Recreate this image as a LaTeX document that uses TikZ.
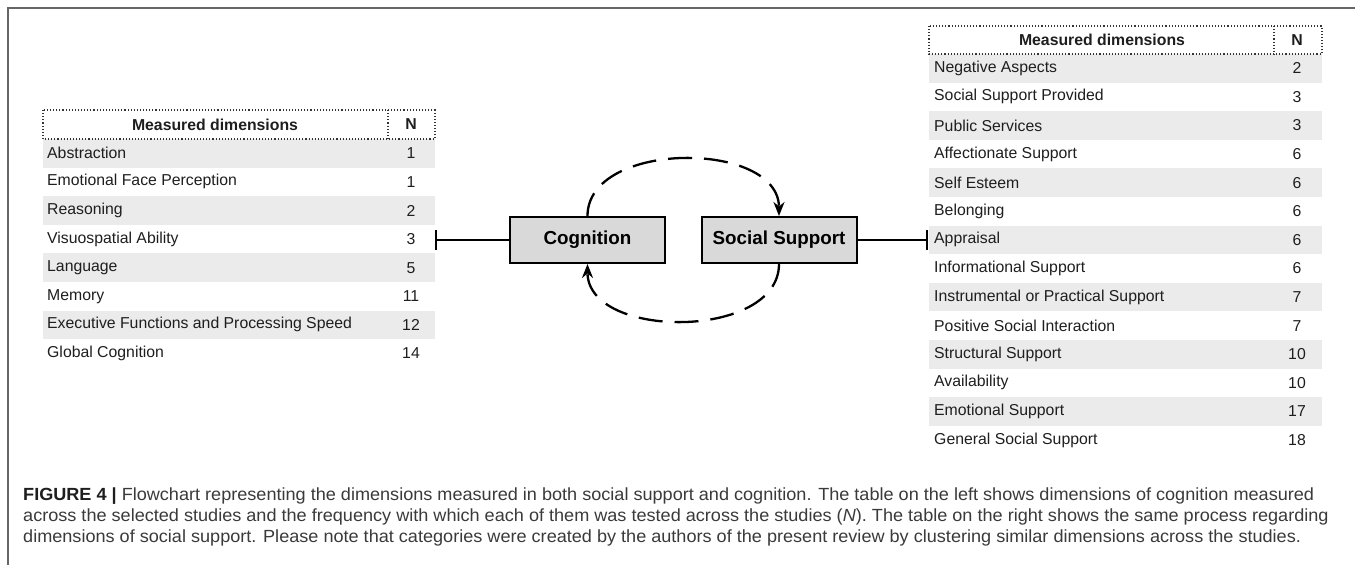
\documentclass[tikz,border=0pt]{standalone}
\usepackage{fontspec}
\setmainfont{Liberation Sans}
\newfontfamily\capfont[FakeStretch=1.028]{Liberation Sans}
\usetikzlibrary{arrows.meta}
\definecolor{rowgray}{HTML}{EBEBEB}
\definecolor{boxgray}{HTML}{D9D9D9}
\definecolor{framegray}{HTML}{666666}
\definecolor{txt}{HTML}{1E1E1E}
\definecolor{captxt}{HTML}{3A3A3A}
\tikzset{
  cell/.style={anchor=west, inner sep=0pt, font=\fontsize{15.8}{18}\selectfont, text=txt},
  numcell/.style={anchor=center, inner sep=0pt, font=\fontsize{15.8}{18}\selectfont, text=txt},
  hdr/.style={anchor=center, inner sep=0pt, font=\fontsize{15.8}{18}\selectfont\bfseries, text=txt},
  hdrline/.style={line width=1.1pt, dash pattern=on 1.1pt off 2pt, black!80},
  concept/.style={draw=black, line width=2pt, fill=boxgray, minimum width=155pt, minimum height=46pt, inner sep=0pt, font=\fontsize{18.8}{22}\selectfont\bfseries},
  barline/.style={line width=2pt},
  loopline/.style={line width=2.3pt, dash pattern=on 24pt off 12pt, -{Stealth[length=14pt,width=11pt]}},
  capline/.style={anchor=base west, inner sep=0pt, text=captxt, font=\capfont\fontsize{17.6}{21}\selectfont}
}
\begin{document}
\begin{tikzpicture}[x=1pt,y=-1pt]
\useasboundingbox (0,0) rectangle (1355,565);
% frame
\draw[framegray, line width=1.5pt] (8,565) -- (8,8) -- (1355,8);

% ---------- left table ----------
\def\rh{28.6}
\foreach \i in {1,3,5,7} {
  \fill[rowgray] (43,{139+(\i-1)*\rh}) rectangle (435,{139+\i*\rh});
}
\foreach \t/\n [count=\i] in {Abstraction/1, Emotional Face Perception/1, Reasoning/2, Visuospatial Ability/3, Language/5, Memory/11, Executive Functions and Processing Speed/12, Global Cognition/14} {
  \node[cell] (L\i) at (47,{139+(\i-0.5)*\rh}) {\t};
  \node[numcell] (LN\i) at (411,{139+(\i-0.5)*\rh}) {\n};
}
\draw[hdrline] (43,110) rectangle (435,139);
\draw[hdrline] (388,110) -- (388,139);
\node[hdr] (LH) at (215,124.5) {Measured dimensions};
\node[hdr] (LHN) at (411,124.5) {N};

% ---------- right table ----------
\foreach \i in {1,3,5,7,9,11,13} {
  \fill[rowgray] (929,{54+(\i-1)*\rh}) rectangle (1322,{54+\i*\rh});
}
\foreach \t/\n [count=\i] in {Negative Aspects/2, Social Support Provided/3, Public Services/3, Affectionate Support/6, Self Esteem/6, Belonging/6, Appraisal/6, Informational Support/6, Instrumental or Practical Support/7, Positive Social Interaction/7, Structural Support/10, Availability/10, Emotional Support/17, General Social Support/18} {
  \node[cell] (R\i) at (934,{54+(\i-0.5)*\rh}) {\t};
  \node[numcell] (RN\i) at (1297,{54+(\i-0.5)*\rh}) {\n};
}
\draw[hdrline] (929,26) rectangle (1322,54);
\draw[hdrline] (1274,26) -- (1274,54);
\node[hdr] (RH) at (1102,40) {Measured dimensions};
\node[hdr] (RHN) at (1297,40) {N};

% ---------- centre ----------
\node[concept] (cog) at (587.5,240) {Cognition};
\node[concept] (ss) at (779,240) {Social Support};
\coordinate (lbar) at (435,240);
\coordinate (rbar) at (928,240);
\draw[barline, {Bar[width=20pt]}-] (lbar) -- (cog.west);
\draw[barline, -{Bar[width=20pt]}] (ss.east) -- (rbar);
\draw[loopline] (cog.north) .. controls +(0,-76) and +(0,-76) .. (ss.north);
\draw[loopline] (ss.south) .. controls +(0,76) and +(0,76) .. (cog.south);

% ---------- caption ----------
\node[capline] (cap1) at (23,500.5) {{\bfseries\color{txt}FIGURE 4 |} Flowchart representing the dimensions measured in both social support and cognition. The table on the left shows dimensions of cognition measured};
\node[capline] (cap2) at (23,521.5) {across the selected studies and the frequency with which each of them was tested across the studies (\textit{N}). The table on the right shows the same process regarding};
\node[capline] (cap3) at (23,542.5) {dimensions of social support. Please note that categories were created by the authors of the present review by clustering similar dimensions across the studies.};
\end{tikzpicture}
\end{document}
